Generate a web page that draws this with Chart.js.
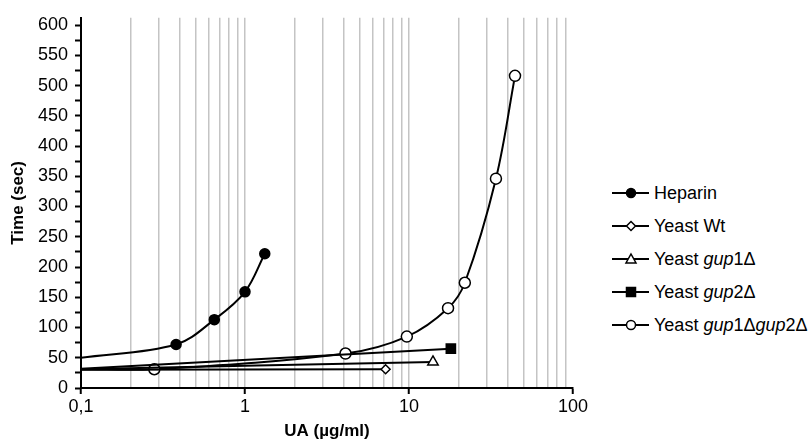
<!DOCTYPE html>
<html>
<head>
<meta charset="utf-8">
<script src="https://cdn.jsdelivr.net/npm/chart.js@4/dist/chart.umd.min.js"></script>
<style>
  body { margin: 0; background: #fff; font-family: "Liberation Sans", Arial, sans-serif; }
  #wrap { position: relative; width: 812px; height: 442px; }
  #chart { position: absolute; left: 0; top: 0; }
  #legend { position: absolute; left: 612px; top: 0; }
  .item { position: absolute; left: 0; height: 24px; display: flex; align-items: center; white-space: nowrap;
          font-size: 18px; color: #000; }
  .item svg { margin-right: 4px; }
</style>
</head>
<body>
<div id="wrap">
  <canvas id="chart" width="600" height="442"></canvas>
  <div id="legend"></div>
</div>
<script>
// UA concentration (µg/ml) vs clotting time (sec); first point of each series sits on the axis edge, no marker
const heparinX = [0.1, 0.38, 0.65, 1.0, 1.32];
const heparinY = [50, 72, 113, 159, 222];

const wtX = [0.1, 7.2];
const wtY = [30, 31];

const gup1X = [0.1, 14.0];
const gup1Y = [31, 43];

const gup2X = [0.1, 18.0];
const gup2Y = [32, 65];

const dblX = [0.1, 0.28, 4.1, 9.7, 17.3, 21.9, 33.9, 44.3];
const dblY = [31, 31, 57, 85, 132, 174, 346, 516];

const seriesNames = ['Heparin', 'Yeast Wt', 'Yeast gup1Δ', 'Yeast gup2Δ', 'Yeast gup1Δgup2Δ'];
const legendHtml = ['Heparin', 'Yeast Wt', 'Yeast <i>gup</i>1Δ', 'Yeast <i>gup</i>2Δ', 'Yeast <i>gup</i>1Δ<i>gup</i>2Δ'];

const xTickLabels = ['0,1', '1', '10', '100'];
const decades = [0.1, 1, 10, 100];
const yMajorStep = 50;

// ── helpers ──────────────────────────────────────────────────────
function pts(xs, ys) {
  return xs.map((x, i) => ({ x: x, y: ys[i] }));
}

function radii(xs, r) {
  return xs.map((x, i) => i === 0 ? 0 : r);
}

function isDecade(v) {
  return decades.some(d => Math.abs(d - v) < 1e-9);
}

function mkSet(label, xs, ys, style, r, fill) {
  return {
    label: label,
    data: pts(xs, ys),
    showLine: true,
    borderColor: '#000',
    borderWidth: 2,
    tension: 0.35,
    pointStyle: style,
    pointRadius: radii(xs, r),
    pointBackgroundColor: fill,
    pointBorderColor: '#000',
    pointBorderWidth: 1.5,
  };
}

// log grid positions: 1..9 x each decade
const xGrid = [];
[0.1, 1, 10].forEach(d => {
  for (let k = 1; k < 10; k++) xGrid.push(+(d * k).toPrecision(3));
});
xGrid.push(100);

const yGrid = [];
for (let v = 0; v <= 600; v += 25) yGrid.push(v);

// ── chart ────────────────────────────────────────────────────────
const ctx = document.getElementById('chart').getContext('2d');
const chart = new Chart(ctx, {
  type: 'scatter',
  data: {
    datasets: [
      mkSet(seriesNames[0], heparinX, heparinY, 'circle', 5, '#000'),
      mkSet(seriesNames[1], wtX, wtY, 'rectRot', 4.5, '#fff'),
      mkSet(seriesNames[2], gup1X, gup1Y, 'triangle', 6, '#fff'),
      mkSet(seriesNames[3], gup2X, gup2Y, 'rect', 6.5, '#000'),
      mkSet(seriesNames[4], dblX, dblY, 'circle', 5.5, '#fff'),
    ]
  },
  options: {
    responsive: false,
    animation: false,
    devicePixelRatio: 1,
    layout: { padding: { top: 0, right: 27, bottom: 0, left: 0 } },
    plugins: { legend: { display: false }, tooltip: { enabled: false } },
    scales: {
      x: {
        type: 'logarithmic',
        min: 0.1,
        max: 100,
        afterBuildTicks: s => { s.ticks = xGrid.map(v => ({ value: v })); },
        afterFit: s => { s.height = 54; },
        border: { color: '#000', width: 2 },
        grid: {
          drawOnChartArea: true,
          color: c => (c.tick && (c.tick.value === 100 || c.tick.value === 0.1)) ? 'rgba(0,0,0,0)' : '#c4c4c4',
          lineWidth: 1.5,
          tickColor: c => (c.tick && isDecade(c.tick.value)) ? '#000' : 'rgba(0,0,0,0)',
          tickLength: 6,
          tickWidth: 2,
        },
        ticks: {
          autoSkip: false,
          maxRotation: 0,
          padding: 2,
          color: '#000',
          font: { family: '"Liberation Sans", Arial, sans-serif', size: 18 },
          callback: v => {
            const i = decades.findIndex(d => Math.abs(d - v) < 1e-9);
            return i >= 0 ? xTickLabels[i] : '';
          }
        },
        title: {
          display: true,
          text: 'UA (µg/ml)',
          color: '#000',
          padding: { top: 0, bottom: 0 },
          font: { family: '"Liberation Sans", Arial, sans-serif', size: 17, weight: 'bold' }
        }
      },
      y: {
        min: 0,
        max: 612,
        afterBuildTicks: s => { s.ticks = yGrid.map(v => ({ value: v })); },
        afterFit: s => { s.width = 81; },
        border: { color: '#000', width: 2 },
        grid: {
          drawOnChartArea: false,
          tickColor: '#000',
          tickLength: 6,
          tickWidth: 2,
        },
        ticks: {
          autoSkip: false,
          padding: 7,
          color: '#000',
          font: { family: '"Liberation Sans", Arial, sans-serif', size: 18 },
          callback: v => v % yMajorStep === 0 ? v : ''
        },
        title: {
          display: true,
          text: 'Time (sec)',
          color: '#000',
          padding: { top: 8, bottom: 0 },
          font: { family: '"Liberation Sans", Arial, sans-serif', size: 17, weight: 'bold' }
        }
      }
    }
  }
});

// ── HTML legend (needs italic gene names) ────────────────────────
function markerSvg(style, fill) {
  const line = '<line x1="0" y1="12" x2="37" y2="12" stroke="#000" stroke-width="2"/>';
  let m = '';
  if (style === 'circle') m = `<circle cx="19" cy="12" r="4.5" fill="${fill}" stroke="#000" stroke-width="1.5"/>`;
  if (style === 'rectRot') m = `<polygon points="19,7.5 23.5,12 19,16.5 14.5,12" fill="${fill}" stroke="#000" stroke-width="1.5"/>`;
  if (style === 'triangle') m = `<polygon points="19,7 24,16 14,16" fill="${fill}" stroke="#000" stroke-width="1.5"/>`;
  if (style === 'rect') m = `<rect x="14.5" y="7.5" width="9" height="9" fill="${fill}" stroke="#000" stroke-width="1.5"/>`;
  return `<svg width="38" height="24">${line}${m}</svg>`;
}

const legendEl = document.getElementById('legend');
const rowY = [193, 226, 259, 292, 325];
legendEl.innerHTML = chart.data.datasets.map((ds, i) =>
  `<div class="item" style="top:${rowY[i] - 12}px">${markerSvg(ds.pointStyle, ds.pointBackgroundColor)}<span>${legendHtml[i]}</span></div>`
).join('');
</script>
</body>
</html>
